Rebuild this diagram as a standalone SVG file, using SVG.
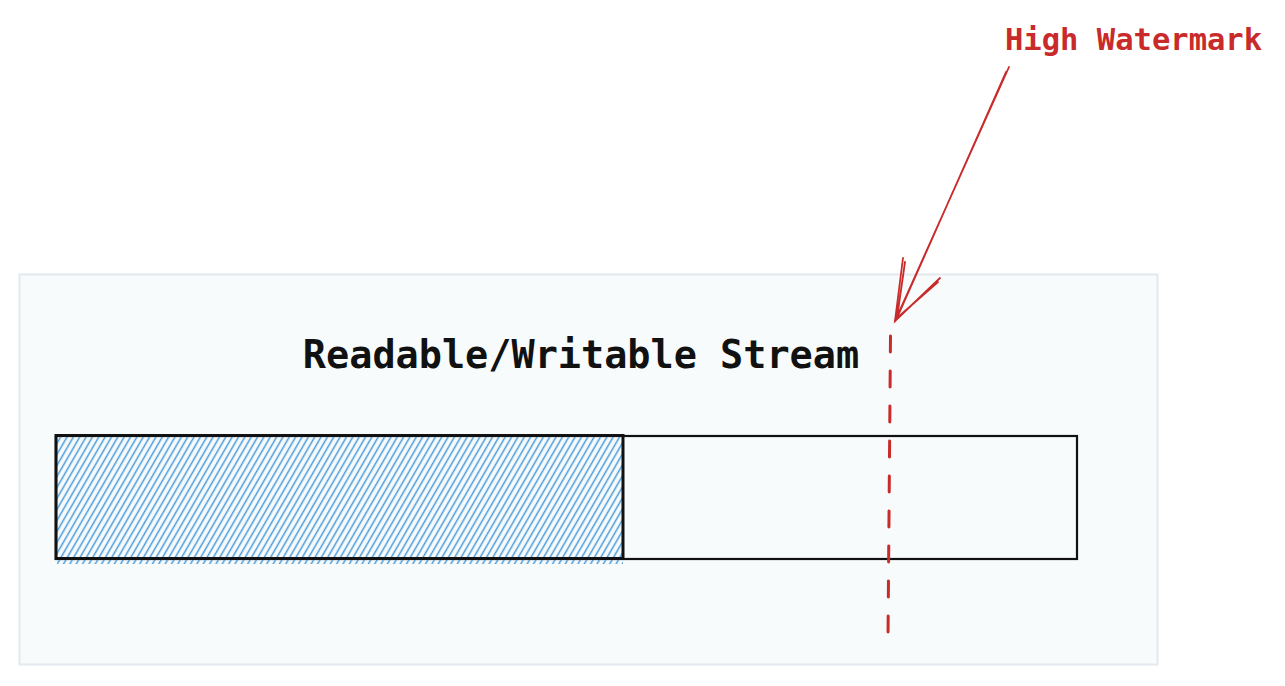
<svg xmlns="http://www.w3.org/2000/svg" width="1285" height="686" viewBox="0 0 1285 686">
  <style>
    .mono { font-family: "DejaVu Sans Mono", "Liberation Mono", monospace; font-weight: bold; }
    .red { fill: #c92a2a; }
    .box { fill: none; stroke: #111; stroke-width: 2.2; stroke-linecap: round; }
  </style>
  <defs>
    <pattern id="hatch" width="5.5" height="10" patternUnits="userSpaceOnUse" patternTransform="rotate(30)">
      <line x1="1.5" y1="0" x2="1.5" y2="10" stroke="#4a9ad8" stroke-width="1.5"/>
    </pattern>
  </defs>
  <rect width="1285" height="686" fill="#ffffff"/>
  <g id="panel">
    <rect x="19.5" y="274.5" width="1138" height="390" fill="#f8fbfc" stroke="#e3e9ee" stroke-width="2"/>
    <text class="mono" x="581" y="368" font-size="38.5" text-anchor="middle" fill="#111">Readable/Writable Stream</text>
  </g>
  <g id="buffer">
    <rect class="box" x="56" y="436" width="1021" height="123"/>
  </g>
  <g id="filled">
    <rect x="57" y="437" width="566" height="127" fill="url(#hatch)"/>
    <rect x="56" y="435.5" width="567" height="123" fill="none" stroke="#111" stroke-width="3"/>
  </g>
  <g id="watermark-label">
    <text class="mono red" x="1005" y="50" font-size="30.5">High Watermark</text>
  </g>
  <g id="connectors" fill="none" stroke="#c92a2a" stroke-linecap="round">
    <line x1="890.5" y1="336" x2="888" y2="638" stroke-width="3" stroke-dasharray="16 19"/>
    <path d="M1009 67 L895 321 M1006 72 L897 318" stroke-width="1.8"/>
    <path d="M903 258 L895 321 L940 278 M905 262 L897 318 L938 282" stroke-width="1.8"/>
  </g>
</svg>
